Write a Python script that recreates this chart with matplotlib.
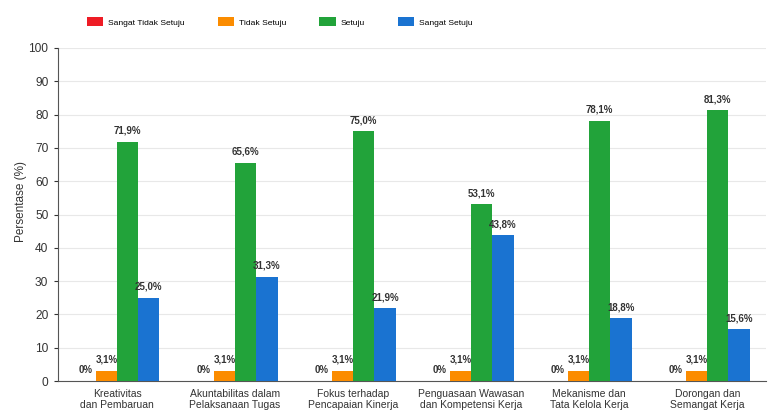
import numpy as np
import matplotlib.pyplot as plt

plt.rcParams['font.family'] = ['Liberation Sans', 'DejaVu Sans']

categories = ["Kreativitas\ndan Pembaruan", "Akuntabilitas dalam\nPelaksanaan Tugas",
              "Fokus terhadap\nPencapaian Kinerja", "Penguasaan Wawasan\ndan Kompetensi Kerja",
              "Mekanisme dan\nTata Kelola Kerja", "Dorongan dan\nSemangat Kerja"]
series_names = ["Sangat Tidak Setuju", "Tidak Setuju", "Setuju", "Sangat Setuju"]
sts = [0, 0, 0, 0, 0, 0]
ts = [3.1, 3.1, 3.1, 3.1, 3.1, 3.1]
s = [71.9, 65.6, 75.0, 53.1, 78.1, 81.3]
ss = [25.0, 31.3, 21.9, 43.8, 18.8, 15.6]
colors = ['#ee1c25', '#fb8c00', '#22a33a', '#1a73d1']

fig = plt.figure(figsize=(7.69, 4.12), dpi=100)
ax = fig.add_axes([0.0754, 0.0752, 0.921, 0.8083])

x = np.arange(len(categories))
w = 0.18
for k, vals in enumerate([sts, ts, s, ss]):
    pos = x + (k - 1.5) * w
    ax.bar(pos, vals, w, color=colors[k], label=series_names[k], zorder=3)
    for p, v in zip(pos, vals):
        txt = "0%" if v == 0 else f"{v:.1f}%".replace('.', ',')
        ax.text(p, v + 1.8, txt, ha='center', va='bottom', fontsize=7,
                color='#333333', fontweight='bold')

ax.set_xlim(-0.5, 5.5)
ax.set_ylim(0, 100)
ax.set_yticks(range(0, 101, 10))
ax.set_xticks(x)
ax.set_xticklabels(categories, fontsize=7.5, color='#333333', linespacing=1.1)
ax.tick_params(axis='x', length=0, pad=6)
ax.tick_params(axis='y', labelsize=8.6, colors='#333333', length=3, pad=4)
ax.set_ylabel("Persentase (%)", fontsize=8.5, color='#333333')
ax.yaxis.set_label_coords(-0.044, 0.54)
ax.yaxis.grid(True, color='#e8e8e8', linewidth=0.8, zorder=0)
for sp in ['top', 'right']:
    ax.spines[sp].set_visible(False)
ax.spines['left'].set_color('#555555')
ax.spines['bottom'].set_color('#555555')

fig.legend(loc='center left', bbox_to_anchor=(87 / 769, 1 - 22 / 412), ncol=4,
           frameon=False, fontsize=6.1, borderpad=0, borderaxespad=0,
           handlelength=1.9, handleheight=1.15, handletextpad=0.6, columnspacing=3.9)

fig.savefig("out.png", dpi=100)
